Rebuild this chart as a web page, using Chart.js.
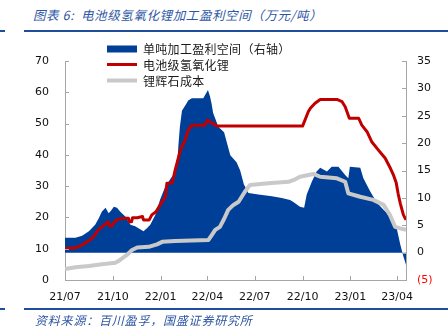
<!DOCTYPE html>
<html>
<head>
<meta charset="utf-8">
<script src="https://cdn.jsdelivr.net/npm/chart.js@4.4.0/dist/chart.umd.min.js"></script>
<style>
  html, body { margin: 0; padding: 0; background: #fff; }
  #wrap { position: relative; width: 448px; height: 333px; overflow: hidden; background: #fff; }
  #c { position: absolute; left: 0; top: 0; }
  .rule { position: absolute; height: 2px; background: #1f4e9c; }
  .cap { position: absolute; font-family: "Noto Sans CJK SC", sans-serif; font-style: italic;
         color: #2d56a3; white-space: nowrap; line-height: 1; }
</style>
</head>
<body>
<div id="wrap">
  <div class="cap" style="left:33px; top:9px; font-size:12.5px; letter-spacing:0.6px;">图表 6:&nbsp; 电池级氢氧化锂加工盈利空间（万元/吨）</div>
  <div class="rule" style="left:0; top:30px; width:5px;"></div>
  <div class="rule" style="left:24px; top:30px; width:424px;"></div>
  <canvas id="c" width="448" height="333"></canvas>
  <div class="rule" style="left:0; top:308px; width:5px;"></div>
  <div class="rule" style="left:24px; top:308px; width:424px;"></div>
  <div class="cap" style="left:35px; top:314px; font-size:12px; letter-spacing:0.8px;">资料来源：百川盈孚，国盛证券研究所</div>
</div>
<script>
// Days are counted from 2021-07-01.
const tickDays   = [0, 92, 184, 274, 365, 457, 549, 639];
const tickLabels = ['21/07', '21/10', '22/01', '22/04', '22/07', '22/10', '23/01', '23/04'];

const seriesNames = ['单吨加工盈利空间（右轴）', '电池级氢氧化锂', '锂辉石成本'];

// Processing margin per tonne (right axis)
const marginDays = [0, 20, 33, 46, 58, 65, 71, 78, 84, 88, 94, 100, 106, 116, 126, 135, 151, 158, 164, 174,
  183, 193, 206, 212, 216, 218, 221, 225, 234, 237, 244, 266, 269, 275, 279, 282, 285, 295, 306, 318,
  330, 337, 344, 353, 372, 398, 417, 433, 440, 452, 460, 465, 475, 484, 491, 504, 513, 526, 539, 545,
  548, 568, 574, 587, 600, 616, 629, 638, 645, 651, 656];
const marginVals = [2.7, 2.7, 3.1, 3.9, 5.1, 6.3, 7.5, 8.2, 7.2, 7.6, 8.4, 8.2, 7.5, 6.6, 5.1, 4.8, 3.9, 4.5, 5.1, 6.9,
  9.7, 12.1, 13.9, 14.6, 16.4, 19.4, 23.0, 25.9, 27.3, 27.8, 28.2, 28.2, 28.7, 29.7, 28.5, 27.2, 25.5, 23.0, 22.0, 17.8,
  16.5, 15.0, 12.5, 10.9, 10.6, 10.3, 10.0, 9.6, 9.2, 8.4, 8.2, 10.6, 13.0, 14.8, 15.5, 14.8, 15.7, 15.7, 14.2, 13.6,
  15.7, 15.5, 13.6, 11.2, 9.1, 7.5, 6.6, 4.5, 1.5, -0.7, -2.2];

// Battery-grade lithium hydroxide price (left axis)
const lioDays = [0, 20, 33, 52, 58, 65, 74, 83, 86, 90, 94, 100, 113, 122, 124, 128, 130, 139, 149, 151,
  162, 167, 175, 183, 193, 196, 206, 209, 212, 222, 231, 237, 244, 269, 274, 279, 285, 292, 457, 468,
  472, 481, 491, 523, 533, 539, 547, 565, 571, 581, 590, 603, 616, 626, 632, 637, 641, 645, 651, 656];
const lioVals = [10.1, 10.3, 11.2, 13.3, 14.6, 16.2, 17.4, 18.6, 17.3, 17.3, 18.3, 19.3, 19.7, 19.7, 18.6, 18.6, 19.9, 19.9, 20.3, 19.2,
  19.2, 20.8, 21.8, 24.0, 26.6, 30.9, 31.0, 33.0, 35.2, 41.5, 44.7, 47.9, 49.5, 49.5, 51.1, 50.5, 50.0, 49.2, 49.2, 53.8,
  54.9, 56.5, 57.7, 57.7, 57.0, 55.4, 51.7, 51.7, 49.5, 47.4, 44.2, 41.5, 38.9, 35.7, 33.5, 31.2, 27.5, 24.5, 20.8, 19.2];

// Spodumene cost (left axis)
const spodDays = [0, 20, 46, 71, 97, 106, 119, 129, 139, 161, 177, 187, 212, 276, 283, 289, 298, 306, 314, 324,
  334, 346, 356, 391, 430, 443, 452, 478, 491, 523, 539, 545, 568, 593, 613, 625, 635, 645, 656];
const spodVals = [3.5, 4.1, 4.5, 5.0, 5.5, 6.4, 8.0, 9.6, 10.4, 10.6, 11.4, 12.2, 12.5, 12.8, 14.5, 16.0, 17.0, 19.5, 22.4, 24.0,
  25.0, 28.2, 30.4, 30.9, 31.4, 32.2, 33.0, 33.9, 33.0, 32.5, 31.4, 27.7, 26.6, 25.6, 24.0, 20.8, 17.0, 16.5, 16.0];

const points = (xs, ys) => xs.map((x, i) => ({ x: x, y: ys[i] }));

const BLUE = '#003f98', RED = '#c00000', GREY = '#c9c9c9', AXIS = '#a6a6a6';
const tickFont = { family: 'DejaVu Sans', size: 11 };

// Short tick marks drawn on the inner side of each axis
const innerTicks = {
  id: 'innerTicks',
  afterDatasetsDraw(chart) {
    const { ctx, chartArea: a, scales } = chart;
    ctx.save();
    ctx.strokeStyle = AXIS;
    ctx.lineWidth = 1;
    ctx.beginPath();
    scales.y.ticks.forEach(t => {
      const p = Math.round(scales.y.getPixelForValue(t.value)) + 0.5;
      ctx.moveTo(a.left, p); ctx.lineTo(a.left + 4, p);
    });
    scales.y1.ticks.forEach(t => {
      const p = Math.round(scales.y1.getPixelForValue(t.value)) + 0.5;
      ctx.moveTo(a.right, p); ctx.lineTo(a.right - 4, p);
    });
    scales.x.ticks.forEach(t => {
      const p = Math.round(scales.x.getPixelForValue(t.value)) + 0.5;
      ctx.moveTo(p, a.bottom); ctx.lineTo(p, a.bottom - 4);
    });
    ctx.stroke();
    ctx.restore();
  }
};

// Stacked legend in the upper-left of the plot
const stackedLegend = {
  id: 'stackedLegend',
  afterDraw(chart) {
    const { ctx } = chart;
    const x0 = 107, sw = 30, tx = 143, rows = [49, 64.5, 80.5];
    ctx.save();
    ctx.font = '12px "Noto Sans CJK SC"';
    ctx.textBaseline = 'middle';
    ctx.fillStyle = '#1a1a1a';
    if ('letterSpacing' in ctx) ctx.letterSpacing = '0.3px';
    chart.data.datasets.forEach((ds, i) => {
      const y = rows[i];
      if (i === 0) {
        ctx.fillStyle = ds.backgroundColor;
        ctx.fillRect(x0, y - 3.5, sw, 7);
      } else {
        ctx.strokeStyle = ds.borderColor;
        ctx.lineWidth = ds.borderWidth;
        ctx.beginPath(); ctx.moveTo(x0, y); ctx.lineTo(x0 + sw, y); ctx.stroke();
      }
      ctx.fillStyle = '#1a1a1a';
      ctx.fillText(ds.label, tx, y + 0.5);
    });
    ctx.restore();
  }
};

new Chart(document.getElementById('c'), {
  type: 'line',
  data: {
    datasets: [
      { label: seriesNames[0], data: points(marginDays, marginVals), yAxisID: 'y1',
        fill: 'origin', backgroundColor: BLUE, borderColor: 'rgba(0,0,0,0)', borderWidth: 0,
        pointRadius: 0, order: 3 },
      { label: seriesNames[1], data: points(lioDays, lioVals), yAxisID: 'y',
        fill: false, borderColor: RED, borderWidth: 3, pointRadius: 0, order: 1,
        borderJoinStyle: 'round' },
      { label: seriesNames[2], data: points(spodDays, spodVals), yAxisID: 'y',
        fill: false, borderColor: GREY, borderWidth: 4, pointRadius: 0, order: 2,
        borderJoinStyle: 'round' }
    ]
  },
  options: {
    responsive: false,
    animation: false,
    layout: { padding: { top: 61, left: 0, right: 0, bottom: 0 } },
    plugins: { legend: { display: false }, tooltip: { enabled: false } },
    scales: {
      x: {
        type: 'linear', min: 0, max: 656,
        grid: { display: false, drawTicks: false },
        border: { display: true, color: AXIS, width: 1 },
        afterBuildTicks: s => { s.ticks = tickDays.map(v => ({ value: v })); },
        afterFit: s => { s.height = 53; },
        ticks: {
          autoSkip: false, maxRotation: 0, padding: 11, color: '#111', font: tickFont,
          callback: v => tickLabels[tickDays.indexOf(v)]
        }
      },
      y: {
        position: 'left', min: 0, max: 70,
        grid: { display: false, drawTicks: false },
        border: { display: true, color: AXIS, width: 1 },
        afterFit: s => { s.width = 65; },
        ticks: { stepSize: 10, padding: 16, color: '#111', font: tickFont }
      },
      y1: {
        position: 'right', min: -5, max: 35,
        grid: { display: false, drawTicks: false },
        border: { display: true, color: AXIS, width: 1 },
        afterFit: s => { s.width = 42; },
        ticks: {
          stepSize: 5, padding: 11, font: tickFont,
          color: c => (c.tick && c.tick.value < 0) ? '#ff0000' : '#111',
          callback: v => v < 0 ? '(' + (-v) + ')' : String(v)
        }
      }
    }
  },
  plugins: [innerTicks, stackedLegend]
});
</script>
</body>
</html>
